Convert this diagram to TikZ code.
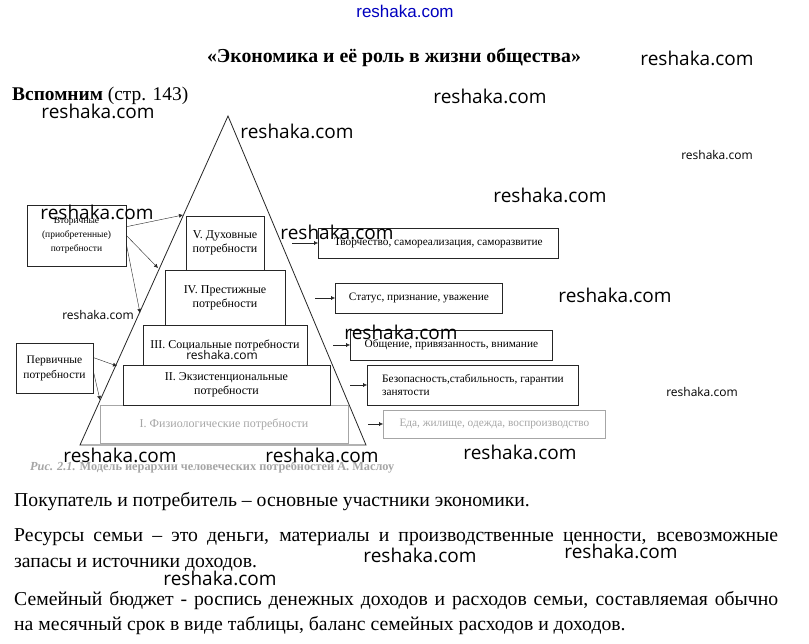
\documentclass[tikz,border=0pt]{standalone}
\usepackage{fontspec}
\setmainfont{Liberation Serif}
\newfontfamily\wmfont{Open Sans}
\newfontfamily\sitefont{Liberation Sans}
\usetikzlibrary{positioning,arrows.meta}
\colorlet{box edge}{black!85}
\colorlet{faded}{black!35}
\colorlet{site blue}{blue!75!black}
\tikzset{level/.style={draw=box edge, fill=white, thick, align=center, inner sep=1pt,
      font=\fontsize{12}{14}\selectfont},
    need/.style={draw=box edge, thick, align=center, inner sep=2pt,
      font=\fontsize{9.5}{14}\selectfont},
    want/.style={draw=box edge, thick, align=left, inner sep=3pt, anchor=west,
      font=\fontsize{11.3}{13.5}\selectfont},
    pointer/.style={-{Latex[length=4pt,width=4pt]}, box edge},
    body/.style={anchor=base west, inner sep=0pt, font=\fontsize{19.7}{21}\selectfont},
    stamp/.style={inner sep=0pt, font=\wmfont\fontsize{19}{20}\selectfont},
    small stamp/.style={inner sep=0pt, font=\wmfont\fontsize{12}{13}\selectfont}}

\begin{document}
\begin{tikzpicture}[x=1pt,y=-1pt]
\useasboundingbox[fill=white] (0,0) rectangle (809,643);
\node[site blue, inner sep=0pt, font=\sitefont\fontsize{17}{18}\selectfont] (site) at (405,11) {reshaka.com};
\node[body, font=\bfseries\fontsize{19.8}{21}\selectfont, anchor=base] (title) at (394,62) {«Экономика и её роль в жизни общества»};
\node[body, font=\fontsize{19.4}{21}\selectfont] (recall) at (12,100) {\textbf{Вспомним} (стр. 143)};

\draw[thick, box edge] (228,116) coordinate (apex) -- (80,445) coordinate (base l) -- (366,445) coordinate (base r) -- cycle;
\node[level, draw=faded, text=faded, minimum width=248pt, minimum height=38pt] (l1) at (224,424) {I. Физиологические потребности};
\node[level, minimum width=207pt, minimum height=40pt] (l2) at (226.5,385) {II. Экзистенциональные\\потребности};
\node[level, minimum width=164pt, minimum height=40pt] (l3) at (225,345) {III. Социальные потребности};
\node[level, minimum width=120pt, minimum height=55pt] (l4) at (225,297.5) {IV. Престижные\\потребности};
\node[level, minimum width=78pt, minimum height=54pt] (l5) at (225,243) {V. Духовные\\потребности};

\node[need, minimum width=99pt, minimum height=61pt] (second) at (76.5,235.5) {Вторичные\\(приобретенные)\\потребности};
\node[need, font=\fontsize{11.5}{15}\selectfont, minimum width=77pt, minimum height=50pt] (first) at (54.5,368) {Первичные\\потребности};
\coordinate (s5) at (183,215);
\coordinate (s4) at (158,268);
\coordinate (s3) at (140,313);
\coordinate (p2) at (117,366);
\coordinate (p1) at (100,400);
\draw[pointer] (second.10) -- (s5);
\draw[pointer] (second.east) -- (s4);
\draw[pointer] (second.-10) -- (s3);
\draw[pointer] (first.15) -- (p2);
\draw[pointer] (first.-5) -- (p1);

\node[want, minimum width=240pt, minimum height=30pt] (r5) at (318,243) {Творчество, самореализация, саморазвитие};
\node[want, minimum width=167pt, minimum height=30pt] (r4) at (335,298) {Статус, признание, уважение};
\node[want, minimum width=202pt, minimum height=30pt] (r3) at (350,345) {Общение, привязанность, внимание};
\node[want, minimum width=211pt, minimum height=40pt] (r2) at (367,385) {Безопасность,стабильность, гарантии\\занятости};
\node[want, draw=faded, text=faded, minimum width=222pt, minimum height=28pt] (r1) at (383,424) {Еда, жилище, одежда, воспроизводство};
\coordinate (t5) at (292,243);
\coordinate (t4) at (315,298);
\coordinate (t3) at (333,345);
\coordinate (t2) at (350,385);
\coordinate (t1) at (368,424);
\foreach \i in {1,...,5}
  \draw[pointer] (t\i) -- (r\i.west);

\node[body, text=faded, font=\bfseries\fontsize{12.3}{13}\selectfont] (caption) at (30,470) {\textit{Рис. 2.1.} Модель иерархии человеческих потребностей А. Маслоу};

\node[body] (line1) at (14,506) {Покупатель и потребитель – основные участники экономики.};
\node[body] (line2) at (14,541) {\makebox[764pt][s]{Ресурсы семьи – это деньги, материалы и производственные ценности, всевозможные}};
\node[body] (line3) at (14,567) {запасы и источники доходов.};
\node[body] (line4) at (14,605) {\makebox[764pt][s]{Семейный бюджет - роспись денежных доходов и расходов семьи, составляемая обычно}};
\node[body] (line5) at (14,630) {на месячный срок в виде таблицы, баланс семейных расходов и доходов.};

\node[stamp] (w1) at (697,58) {reshaka.com};
\node[stamp] (w2) at (490,96) {reshaka.com};
\node[stamp] (w3) at (98,111) {reshaka.com};
\node[stamp] (w4) at (297,131) {reshaka.com};
\node[small stamp] (w5) at (717,155) {reshaka.com};
\node[stamp] (w6) at (550,195) {reshaka.com};
\node[stamp] (w7) at (97,212) {reshaka.com};
\node[stamp] (w8) at (337,232) {reshaka.com};
\node[stamp] (w9) at (615,295) {reshaka.com};
\node[small stamp] (w10) at (98,315) {reshaka.com};
\node[stamp] (w11) at (401,332) {reshaka.com};
\node[small stamp] (w12) at (222,355) {reshaka.com};
\node[small stamp] (w13) at (702,392) {reshaka.com};
\node[stamp] (w14) at (120,455) {reshaka.com};
\node[stamp] (w15) at (322,455) {reshaka.com};
\node[stamp] (w16) at (520,452) {reshaka.com};
\node[stamp] (w17) at (420,555) {reshaka.com};
\node[stamp] (w18) at (621,551) {reshaka.com};
\node[stamp] (w19) at (220,578) {reshaka.com};
\end{tikzpicture}
\end{document}
